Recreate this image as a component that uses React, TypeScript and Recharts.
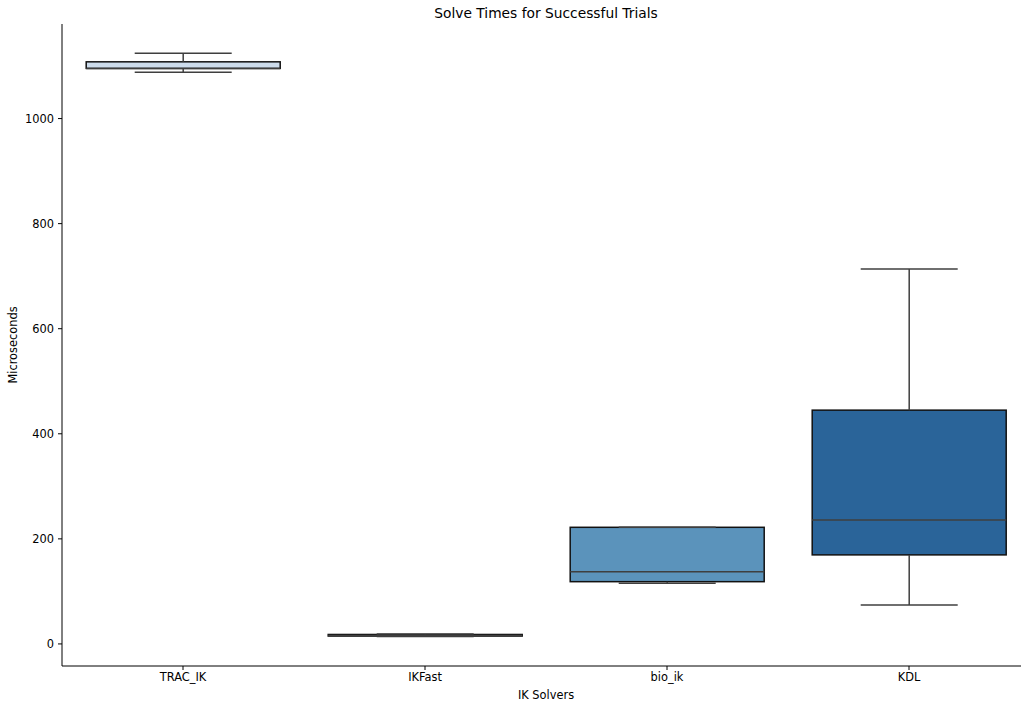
import React from 'react';
import { ComposedChart, Bar, XAxis, YAxis, Label } from 'recharts';

// Solver names and five-number summaries (microseconds)
const categories = ['TRAC_IK', 'IKFast', 'bio_ik', 'KDL'];
const whiskerLow = [1088, 14, 115.5, 74];
const q1 = [1095.5, 15, 118.5, 169.5];
const median = [1095.5, 16, 137.5, 236];
const q3 = [1108, 18, 222, 445];
const whiskerHigh = [1124.5, 19, 222, 713.5];
const boxColors = ['#cddcec', '#9cc0da', '#5b93bb', '#2a6499'];
const yTicks = [0, 200, 400, 600, 800, 1000];

const data = categories.map((name, i) => ({
  name,
  range: [whiskerLow[i], whiskerHigh[i]],
  lo: whiskerLow[i],
  hi: whiskerHigh[i],
  q1: q1[i],
  median: median[i],
  q3: q3[i],
  fill: boxColors[i],
}));

const FONT = '"DejaVu Sans", sans-serif';
const LINE = '#3f3f3f';
const TEXT_SIZE = 11.4;

// Draws one box-and-whisker glyph inside the bar's band, mapping values
// linearly within the bar's own pixel span (whisker low .. whisker high).
const BoxShape = (props: any) => {
  const { x, y, width, height, payload } = props;
  if (!payload) return null;
  const top = Math.min(y, y + height);
  const bottom = Math.max(y, y + height);
  const { lo, hi } = payload;
  const py = (v: number) => (hi === lo ? top : top + ((hi - v) / (hi - lo)) * (bottom - top));
  const cx = x + width / 2;
  const capHalf = width / 4;
  const yQ1 = py(payload.q1);
  const yQ3 = py(payload.q3);
  const yMed = py(payload.median);
  const yLo = py(lo);
  const yHi = py(hi);
  return (
    <g>
      <rect x={x} y={yQ3} width={width} height={Math.max(yQ1 - yQ3, 0.5)} fill={payload.fill} stroke="#111" strokeWidth={1.5} />
      <line x1={cx} x2={cx} y1={yQ3} y2={yHi} stroke={LINE} strokeWidth={1.5} />
      <line x1={cx} x2={cx} y1={yQ1} y2={yLo} stroke={LINE} strokeWidth={1.5} />
      <line x1={cx - capHalf} x2={cx + capHalf} y1={yHi} y2={yHi} stroke={LINE} strokeWidth={1.5} />
      <line x1={cx - capHalf} x2={cx + capHalf} y1={yLo} y2={yLo} stroke={LINE} strokeWidth={1.5} />
      <line x1={x} x2={x + width} y1={yMed} y2={yMed} stroke={LINE} strokeWidth={1.5} />
    </g>
  );
};

const tickStyle = { fill: '#000', fontSize: TEXT_SIZE, fontFamily: FONT };

export default function App() {
  return (
    <div
      style={{
        position: 'absolute',
        left: 0,
        top: 0,
        width: 1021,
        height: 705,
        overflow: 'hidden',
        background: '#fff',
        fontFamily: FONT,
      }}
    >
      <div
        style={{
          position: 'absolute',
          left: 62,
          width: 968,
          top: 4,
          lineHeight: '18px',
          textAlign: 'center',
          fontSize: 13.8,
          color: '#000',
        }}
      >
        Solve Times for Successful Trials
      </div>
      <ComposedChart
        width={1045}
        height={705}
        data={data}
        margin={{ top: 24, right: 15, bottom: 0, left: 0 }}
        barCategoryGap="10%"
      >
        <XAxis
          dataKey="name"
          height={39}
          tickSize={4}
          tickMargin={3}
          axisLine={{ stroke: '#000', strokeWidth: 1 }}
          tickLine={{ stroke: '#000' }}
          tick={tickStyle}
        >
          <Label
            content={({ viewBox }: any) => (
              <text
                x={viewBox.x + viewBox.width / 2}
                y={viewBox.y + 33}
                textAnchor="middle"
                fontSize={TEXT_SIZE}
                fontFamily={FONT}
                fill="#000"
              >
                IK Solvers
              </text>
            )}
          />
        </XAxis>
        <XAxis
          xAxisId="top"
          dataKey="name"
          orientation="top"
          height={0}
          tick={false}
          tickLine={false}
          axisLine={{ stroke: '#000', strokeWidth: 1 }}
        />
        <YAxis
          type="number"
          width={62}
          domain={[-42, 1180]}
          ticks={yTicks}
          allowDataOverflow
          tickSize={4}
          tickMargin={4}
          axisLine={{ stroke: '#000', strokeWidth: 1 }}
          tickLine={{ stroke: '#000' }}
          tick={tickStyle}
        >
          <Label
            content={({ viewBox }: any) => {
              const cy = viewBox.y + viewBox.height / 2;
              return (
                <text
                  x={17}
                  y={cy}
                  transform={`rotate(-90, 17, ${cy})`}
                  textAnchor="middle"
                  fontSize={TEXT_SIZE}
                  fontFamily={FONT}
                  fill="#000"
                >
                  Microseconds
                </text>
              );
            }}
          />
        </YAxis>
        <Bar dataKey="range" shape={BoxShape} isAnimationActive={false} />
      </ComposedChart>
    </div>
  );
}
